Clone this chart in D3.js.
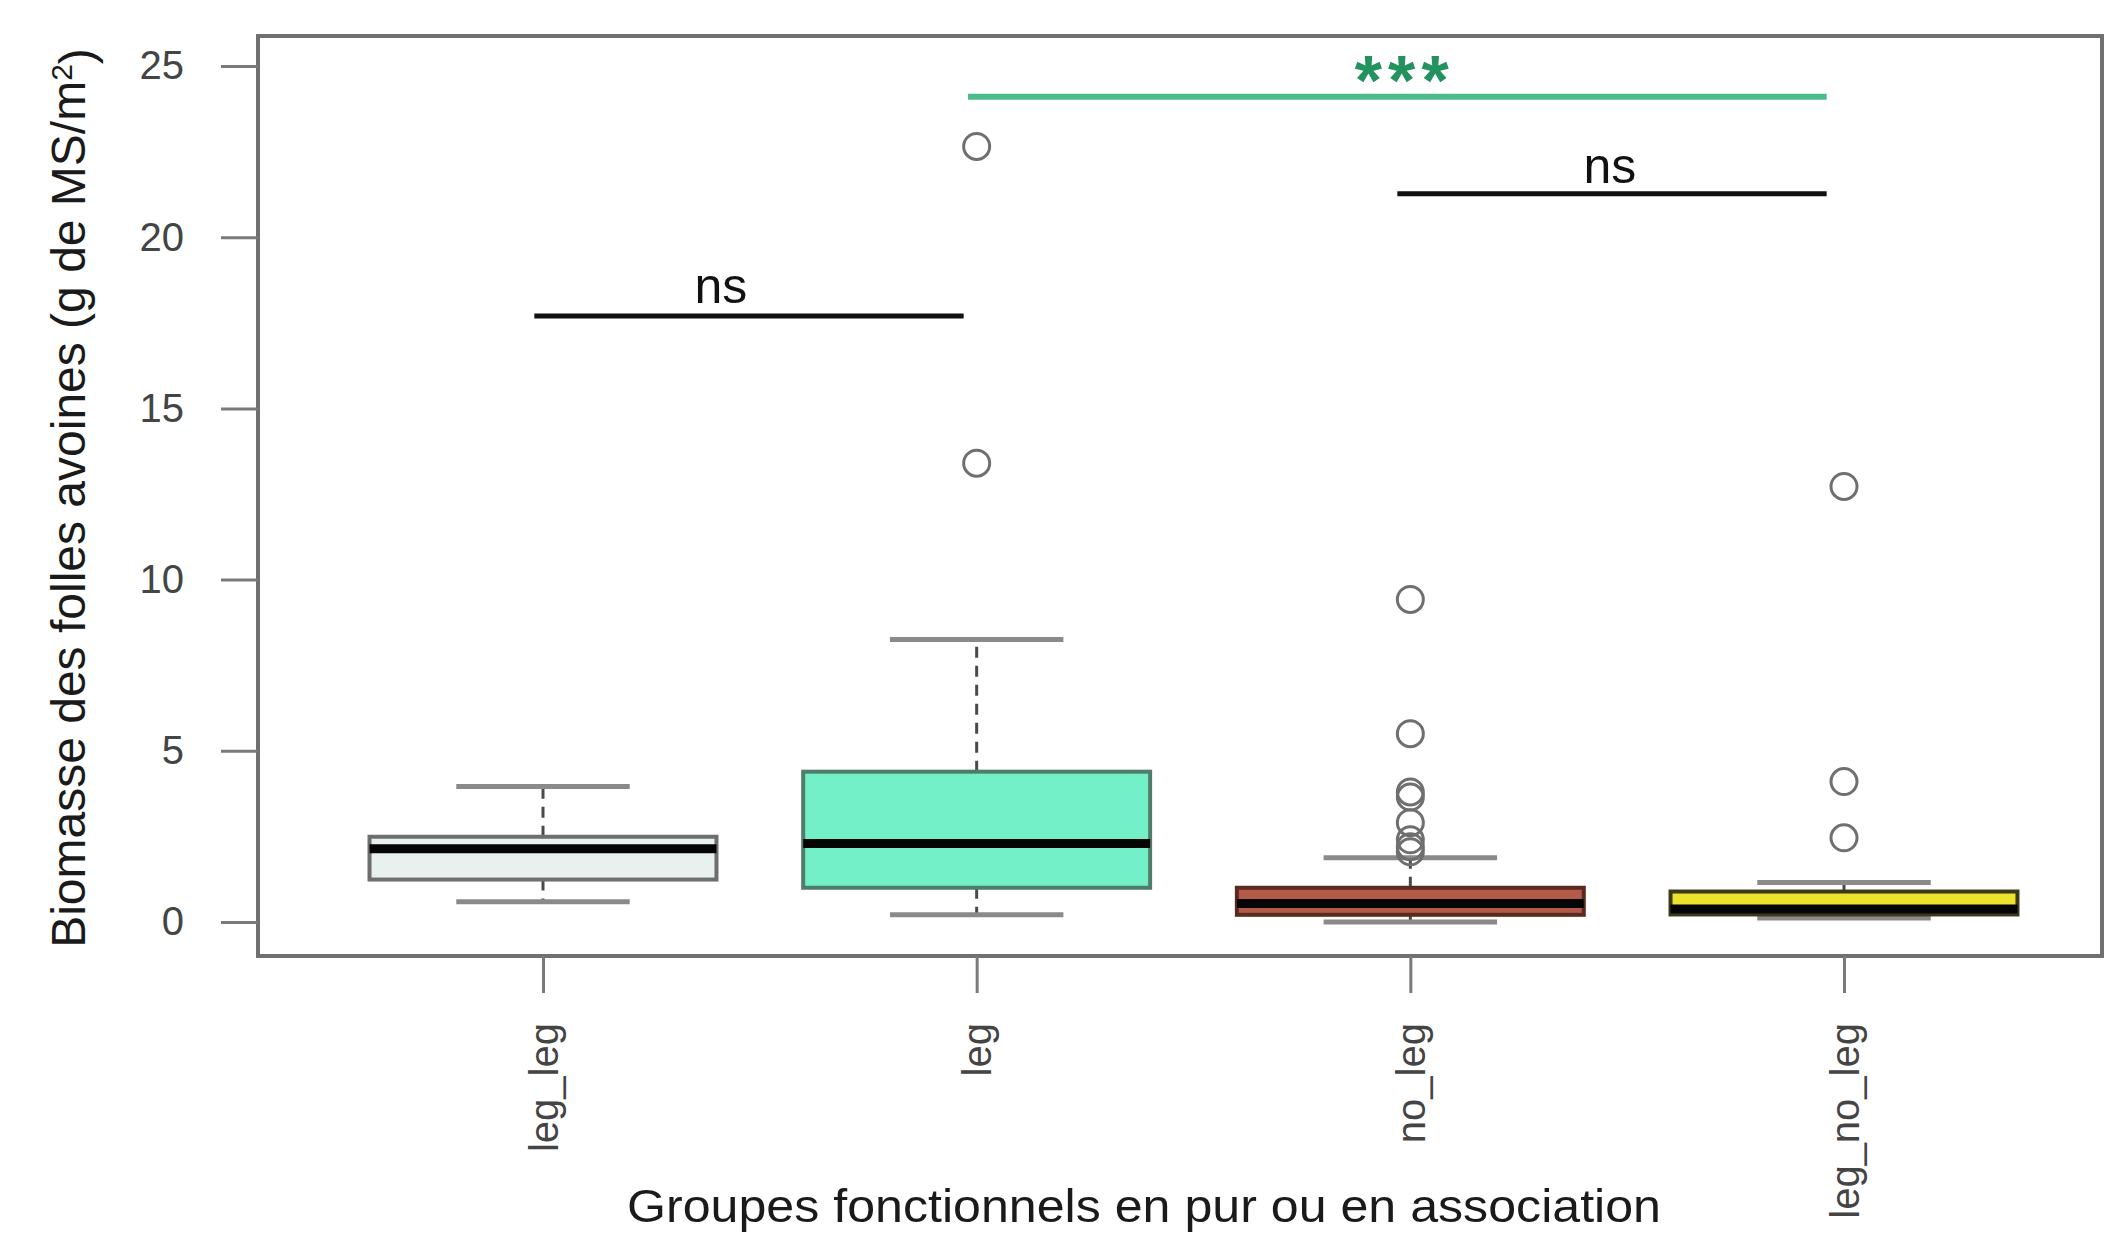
<!DOCTYPE html>
<html>
<head>
<meta charset="utf-8">
<script src="https://cdn.jsdelivr.net/npm/d3@7"></script>
<style>
  html, body { margin: 0; padding: 0; background: #ffffff; }
  svg { display: block; }
  text { font-family: "Liberation Sans", Arial, Helvetica, sans-serif; }
</style>
</head>
<body>
<svg id="chart" width="2105" height="1234"></svg>
<script>
// ---------------- data ----------------
const categories = ["leg_leg", "leg", "no_leg", "leg_no_leg"];
const q1Values = [1.24, 1.00, 0.21, 0.22];
const medianValues = [2.14, 2.29, 0.54, 0.38];
const q3Values = [2.49, 4.39, 1.00, 0.89];
const whiskerLowValues = [0.59, 0.21, 0.0, 0.12];
const whiskerHighValues = [3.96, 8.25, 1.88, 1.15];
const outlierValues = [
  [],
  [13.4, 22.65],
  [9.42, 5.5, 3.8, 3.65, 2.9, 2.4, 2.2, 2.05],
  [12.72, 4.1, 2.46]
];
const yTickValues = [0, 5, 10, 15, 20, 25];
const yTickLabels = ["0", "5", "10", "15", "20", "25"];
const fillColors = ["#e9f1ee", "#74f0c9", "#b35a48", "#ece32c"];
const borderColors = ["#6e6e6e", "#4f7d6b", "#5a2a20", "#3a3a1a"];

// significance annotations (x in category index units, y in data units)
const sigFrom = [0.98, 2.97, 1.98];
const sigTo = [1.97, 3.96, 3.96];
const sigLineY = [17.7, 21.27, 24.1];
const sigLabels = ["ns", "ns", "***"];
const sigTextX = [1.41, 3.46, 2.98];
const sigTextY = [18.07, 21.58, 23.85];
const sigColors = ["#111111", "#111111", "#4cbb8a"];
const sigTextColors = ["#111111", "#111111", "#22925f"];

const yTitle = "Biomasse des folles avoines (g de MS/m";
const yTitleSup = "2";
const yTitleEnd = ")";
const xTitle = "Groupes fonctionnels en pur ou en association";

// ---------------- layout ----------------
const frame = { left: 258, top: 36, right: 2102, bottom: 956 };
const svg = d3.select("#chart");

const y = d3.scaleLinear().domain([0, 25]).range([922, 66]);
const xCat = d3.scalePoint().domain(categories).range([543, 1844]);
const xNum = d3.scaleLinear().domain([1, 4]).range([543, 1844]);
const step = xCat.step();
const halfBox = step * 0.4;
const halfCap = halfBox * 0.5;

// frame
svg.append("rect")
  .attr("x", frame.left).attr("y", frame.top)
  .attr("width", frame.right - frame.left)
  .attr("height", frame.bottom - frame.top)
  .attr("fill", "none")
  .attr("stroke", "#707070")
  .attr("stroke-width", 4);

// y axis
const yAxis = d3.axisLeft(y)
  .tickValues(yTickValues)
  .tickFormat((d, i) => yTickLabels[i])
  .tickSize(37)
  .tickPadding(37);
const gy = svg.append("g")
  .attr("transform", `translate(${frame.left},0)`)
  .call(yAxis);
gy.select(".domain").remove();
gy.selectAll(".tick line").attr("stroke", "#7a7a7a").attr("stroke-width", 3);
gy.selectAll(".tick text")
  .attr("fill", "#444")
  .style("font-size", "40px");

// x axis
const xAxis = d3.axisBottom(xCat).tickSize(37).tickPadding(0);
const gx = svg.append("g")
  .attr("transform", `translate(0,${frame.bottom})`)
  .call(xAxis);
gx.select(".domain").remove();
gx.selectAll(".tick line").attr("stroke", "#7a7a7a").attr("stroke-width", 3);
gx.selectAll(".tick text")
  .attr("fill", "#444")
  .style("font-size", "40px")
  .attr("text-anchor", "end")
  .attr("x", 0).attr("y", 0)
  .attr("dy", "0.35em")
  .attr("transform", "translate(0,67) rotate(-90)");

// boxes
const boxG = svg.append("g");
categories.forEach((cat, i) => {
  const cx = xCat(cat);
  const g = boxG.append("g");
  // whiskers
  g.append("line")
    .attr("x1", cx).attr("x2", cx)
    .attr("y1", y(q3Values[i])).attr("y2", y(whiskerHighValues[i]))
    .attr("stroke", "#4a4a4a").attr("stroke-width", 3)
    .attr("stroke-dasharray", "11,8");
  g.append("line")
    .attr("x1", cx).attr("x2", cx)
    .attr("y1", y(q1Values[i])).attr("y2", y(whiskerLowValues[i]))
    .attr("stroke", "#4a4a4a").attr("stroke-width", 3)
    .attr("stroke-dasharray", "11,8");
  // caps
  [whiskerHighValues[i], whiskerLowValues[i]].forEach(v => {
    g.append("line")
      .attr("x1", cx - halfCap).attr("x2", cx + halfCap)
      .attr("y1", y(v)).attr("y2", y(v))
      .attr("stroke", "#8a8a8a").attr("stroke-width", 5);
  });
  // box
  g.append("rect")
    .attr("x", cx - halfBox)
    .attr("y", y(q3Values[i]))
    .attr("width", 2 * halfBox)
    .attr("height", y(q1Values[i]) - y(q3Values[i]))
    .attr("fill", fillColors[i])
    .attr("stroke", borderColors[i])
    .attr("stroke-width", 4);
  // median
  g.append("line")
    .attr("x1", cx - halfBox).attr("x2", cx + halfBox)
    .attr("y1", y(medianValues[i])).attr("y2", y(medianValues[i]))
    .attr("stroke", "#050505").attr("stroke-width", 9);
  // outliers
  g.selectAll("circle.out")
    .data(outlierValues[i])
    .enter().append("circle")
    .attr("class", "out")
    .attr("cx", cx)
    .attr("cy", d => y(d))
    .attr("r", 13)
    .attr("fill", "none")
    .attr("stroke", "#6f6f6f")
    .attr("stroke-width", 3);
});

// significance annotations
sigLabels.forEach((lab, i) => {
  svg.append("line")
    .attr("x1", xNum(sigFrom[i])).attr("x2", xNum(sigTo[i]))
    .attr("y1", y(sigLineY[i])).attr("y2", y(sigLineY[i]))
    .attr("stroke", sigColors[i])
    .attr("stroke-width", lab === "***" ? 6 : 5);
  const t = svg.append("text")
    .attr("x", xNum(sigTextX[i]))
    .attr("y", y(sigTextY[i]))
    .attr("text-anchor", "middle")
    .attr("fill", sigTextColors[i])
    .text(lab);
  if (lab === "***") {
    t.style("font-size", "70px")
      .style("font-weight", "bold")
      .attr("textLength", 94)
      .attr("lengthAdjust", "spacing");
  } else {
    t.style("font-size", "50px");
  }
});

// y title
const yt = svg.append("text")
  .attr("transform", "translate(85,498) rotate(-90)")
  .attr("text-anchor", "middle")
  .attr("fill", "#1a1a1a")
  .style("font-size", "48px");
yt.append("tspan").text(yTitle);
yt.append("tspan").attr("dy", "-0.45em").style("font-size", "30px").text(yTitleSup);
yt.append("tspan").attr("dy", "0.45em").text(yTitleEnd);

// x title
svg.append("text")
  .attr("x", 1144)
  .attr("y", 1222)
  .attr("text-anchor", "middle")
  .attr("fill", "#1a1a1a")
  .style("font-size", "47px")
  .attr("textLength", 1034)
  .attr("lengthAdjust", "spacingAndGlyphs")
  .text(xTitle);
</script>
</body>
</html>
